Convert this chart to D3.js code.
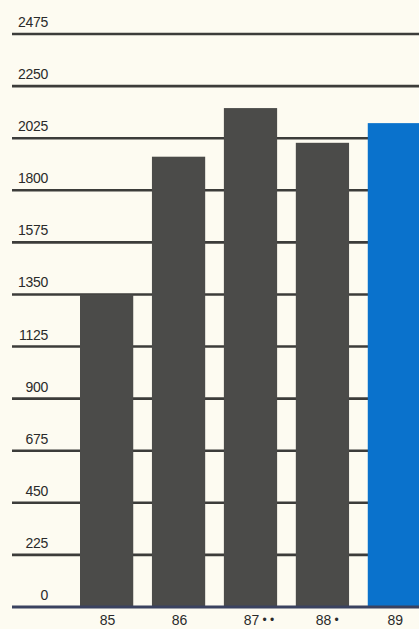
<!DOCTYPE html>
<html><head><meta charset="utf-8">
<script src="https://cdn.jsdelivr.net/npm/d3@7"></script>
<style>
html,body{margin:0;padding:0;background:#fdfbf1;}
svg{display:block;}
text{font-family:"Liberation Sans",Arial,sans-serif;fill:#2a2a2a;}
</style></head>
<body>
<script>
const categories = ["85", "86", "87", "88", "89"];
const markers = ["", "", "• •", "•", ""];
const values = [1350, 1945, 2155, 2005, 2090];
const barColors = ["#4b4b49", "#4b4b49", "#4b4b49", "#4b4b49", "#0a72cc"];
const tickValues = [0, 225, 450, 675, 900, 1125, 1350, 1575, 1800, 2025, 2250, 2475];

const W = 419, H = 629;
const svg = d3.select("body").append("svg").attr("width", W).attr("height", H);
svg.append("rect").attr("width", W).attr("height", H).attr("fill", "#fdfbf1");

const y = d3.scaleLinear().domain([0, 2475]).range([607, 34]);
const x = d3.scaleBand().domain(categories).range([80, 421]).paddingInner(0.26).paddingOuter(0);

// gridlines
svg.append("g").selectAll("line").data(tickValues.filter(d => d > 0)).join("line")
  .attr("x1", 12).attr("x2", W)
  .attr("y1", d => y(d)).attr("y2", d => y(d))
  .attr("stroke", "#3c3c3a").attr("stroke-width", 2.6);

// tick labels
svg.append("g").selectAll("text").data(tickValues).join("text")
  .attr("x", 48).attr("y", d => y(d) - 7)
  .attr("text-anchor", "end").attr("font-size", 14)
  .attr("letter-spacing", -0.3)
  .text(d => d);

// bars
svg.append("g").selectAll("rect").data(categories).join("rect")
  .attr("x", d => x(d)).attr("width", x.bandwidth())
  .attr("y", (d, i) => y(values[i]))
  .attr("height", (d, i) => y(0) - y(values[i]))
  .attr("fill", (d, i) => barColors[i]);

// baseline
svg.append("line").attr("x1", 12).attr("x2", W).attr("y1", y(0)).attr("y2", y(0))
  .attr("stroke", "#3a4260").attr("stroke-width", 3);

// category labels
const cl = svg.append("g");
cl.selectAll("text.cat").data(categories).join("text").attr("class", "cat")
  .attr("x", d => x(d) + x.bandwidth() / 2 + 1).attr("y", 625)
  .attr("text-anchor", "middle").attr("font-size", 14)
  .text(d => d);
cl.selectAll("text.mk").data(categories).join("text").attr("class", "mk")
  .attr("x", d => x(d) + x.bandwidth() / 2 + 12).attr("y", 624)
  .attr("font-size", 12)
  .text((d, i) => markers[i]);
</script>
</body></html>
